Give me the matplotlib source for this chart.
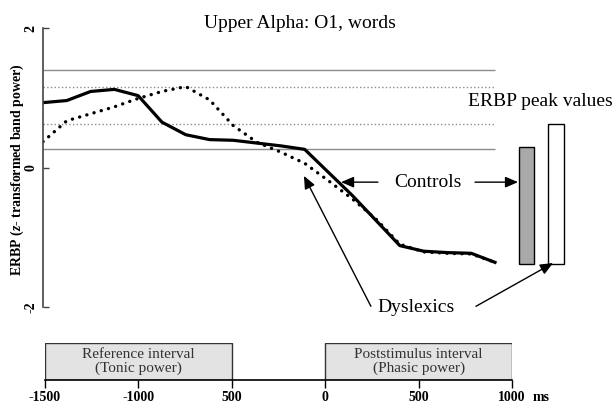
import numpy as np
import matplotlib
matplotlib.use("Agg")
import matplotlib.pyplot as plt

plt.rcParams['font.family'] = ['Liberation Serif', 'DejaVu Serif']
plt.rcParams['mathtext.fontset'] = 'custom'
plt.rcParams['mathtext.it'] = 'Liberation Serif:italic:bold'
plt.rcParams['mathtext.rm'] = 'Liberation Serif:bold'

# ERBP time courses, sampled every 125 ms from -1500 ms
times = np.arange(-1500, 876, 125)
controls = [0.93, 0.96, 1.09, 1.12, 1.03, 0.65, 0.47, 0.40, 0.39, 0.35,
            0.31, 0.26, -0.07, -0.40, -0.76, -1.12, -1.20, -1.22, -1.23, -1.36]
dyslexics = [0.37, 0.67, 0.77, 0.87, 0.99, 1.09, 1.16, 0.97, 0.60, 0.36,
             0.22, 0.06, -0.19, -0.45, -0.74, -1.10, -1.21, -1.23, -1.24, -1.36]

# reference levels (solid = controls, dotted = dyslexics)
ref_levels = [1.40, 1.16, 0.62, 0.26]
ref_styles = ['-', ':', ':', '-']

# ERBP peak value bars
peak_pos = [1040, 1196]
peak_width = [80, 84]
peak_top = [0.30, 0.62]
peak_bottom = [-1.39, -1.39]
peak_colors = ['#a9a9a9', 'white']

# interval boxes on the time line
box_start = [-1500, 0]
box_len = [1000, 1000]
box_text = ['Reference interval\n(Tonic power)', 'Poststimulus interval\n(Phasic power)']
tl_ticks = [-1500, -1000, -500, 0, 500, 1000]
tl_labels = ['-1500', '-1000', '500', '0', '500', '1000']

W, H = 613, 403
fig = plt.figure(figsize=(W / 100, H / 100), dpi=100)

ax = fig.add_axes([43 / W, 96 / H, 570 / W, 279 / H])
ax.set_xlim(-1500, 1495)
ax.set_ylim(-2, 2)

for lvl, ls in zip(ref_levels, ref_styles):
    ax.hlines(lvl, times[0], times[-1], colors='#8c8c8c', linestyles=ls, lw=1.0)

ax.plot(times, dyslexics, color='black', lw=2.4, linestyle=(0, (0.05, 2.2)),
        dash_capstyle='round')
ax.plot(times, controls, color='black', lw=2.3)

heights = [t - b for t, b in zip(peak_top, peak_bottom)]
ax.bar(peak_pos, heights, width=peak_width, bottom=peak_bottom,
       color=peak_colors, edgecolor='black', linewidth=1.0)

for s in ['top', 'right', 'bottom']:
    ax.spines[s].set_visible(False)
ax.spines['left'].set_color('#444444')
ax.spines['left'].set_linewidth(1.2)
ax.set_xticks([])
ax.set_yticks([-2, 0, 2])
ax.set_yticklabels(['-2', '0', '2'], rotation=90, va='center',
                   fontweight='bold', fontsize=10)
ax.tick_params(axis='y', direction='in', length=4, width=1, color='#444444', pad=4)

fig.text(300 / W, 1 - 23 / H, 'Upper Alpha: O1, words', ha='center', va='center', fontsize=14)
fig.text(17 / W, 1 - 170 / H, r'ERBP ($z$- transformed band power)', rotation=90,
         ha='center', va='center', fontsize=10, fontweight='bold')

ax.text(1111, 0.94, 'ERBP peak values', ha='center', va='center', fontsize=14)
ax.text(523, -0.21, 'Controls', ha='center', va='center', fontsize=14)
ax.text(460, -2.0, 'Dyslexics', ha='center', va='center', fontsize=14, clip_on=False)

arrow = dict(arrowstyle='-|>,head_length=0.7,head_width=0.3', color='black',
             lw=1.0, shrinkA=0, shrinkB=0, mutation_scale=11)
ax.annotate('', xy=(66, -0.21), xytext=(260, -0.21), arrowprops=arrow)
ax.annotate('', xy=(996, -0.21), xytext=(770, -0.21), arrowprops=arrow)
ax.annotate('', xy=(-129, -0.12), xytext=(223, -1.99), arrowprops=arrow,
            annotation_clip=False)
ax.annotate('', xy=(1180, -1.37), xytext=(775, -1.99), arrowprops=arrow,
            annotation_clip=False)

# time line with interval boxes
tl = fig.add_axes([45 / W, 23 / H, 467 / W, 37 / H])
tl.set_xlim(-1500, 1000)
tl.set_ylim(0, 1)
tl.bar(box_start, [1, 1], width=box_len, align='edge', color='#e3e3e3',
       edgecolor='#333333', linewidth=1.0)
for s0, ln, txt in zip(box_start, box_len, box_text):
    tl.text(s0 + ln / 2, 0.5, txt, ha='center', va='center', fontsize=11,
            color='#333333', linespacing=1.1)
for s in ['top', 'right', 'left']:
    tl.spines[s].set_visible(False)
tl.spines['bottom'].set_linewidth(1.2)
tl.set_yticks([])
tl.set_xticks(tl_ticks)
tl.set_xticklabels(tl_labels, fontweight='bold', fontsize=10)
tl.tick_params(axis='x', direction='out', length=6, width=1, pad=2)
tl.annotate('ms', xy=(1000, 0), xytext=(15, -8), textcoords='offset points',
            ha='left', va='top', fontsize=10, fontweight='bold',
            annotation_clip=False)

fig.savefig('out.png', dpi=100)
